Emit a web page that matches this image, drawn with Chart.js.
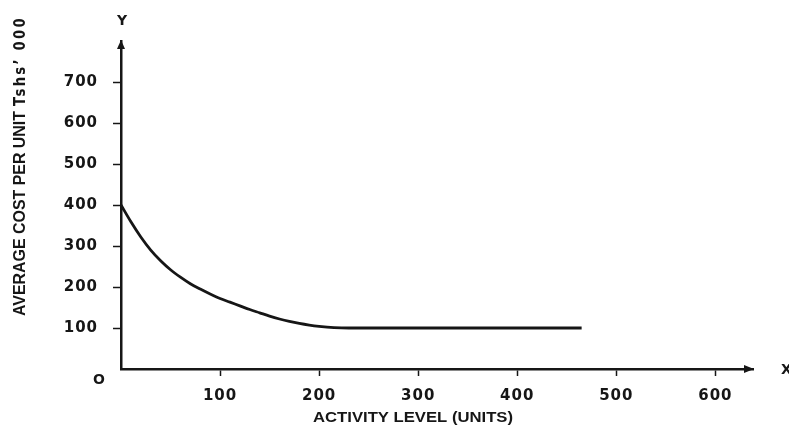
<!DOCTYPE html>
<html>
<head>
<meta charset="utf-8">
<script src="https://cdn.jsdelivr.net/npm/chart.js@4.4.1/dist/chart.umd.min.js"></script>
<style>
  html, body { margin: 0; padding: 0; background: #ffffff; }
  #wrap { width: 789px; height: 431px; }
</style>
</head>
<body>
<div id="wrap"><canvas id="c" width="789" height="431"></canvas></div>
<script>
// Average cost per unit against activity level
const activity = [0, 10, 20, 30, 40, 50, 60, 70, 80, 90, 100, 110, 120, 130, 140, 150, 160, 170, 180, 190, 200, 215, 230, 250, 300, 350, 400, 465];
const avgCost  = [400, 359, 322, 290, 264, 242, 224, 208, 195, 183, 172, 163, 154, 145, 137, 129, 122, 116, 111, 107, 104, 101, 100, 100, 100, 100, 100, 100];

const xTicks = [100, 200, 300, 400, 500, 600];
const yTicks = [100, 200, 300, 400, 500, 600, 700];

const xTitle = 'ACTIVITY LEVEL (UNITS)';
const yTitleMain = 'AVERAGE COST PER UNIT';
const yTitleUnit = 'Tshs’ 000';
const originLabel = 'O';
const xAxisName = 'X';
const yAxisName = 'Y';

const INK = '#161616';
const TICK_FONT = { family: "'DejaVu Sans', sans-serif", size: 15, weight: 'bold' };
const NARROW = "'Liberation Sans Narrow', 'Liberation Sans', Arial, sans-serif";

// text squeezed/stretched horizontally to a given length
function fitText(ctx, text, x, y, width) {
  const w = ctx.measureText(text).width;
  ctx.save();
  ctx.translate(x, y);
  ctx.scale(width / w, 1);
  ctx.fillText(text, 0, 0);
  ctx.restore();
}

const axisDecor = {
  id: 'axisDecor',
  beforeDraw(chart) {
    chart.ctx.letterSpacing = '1px';
  },
  afterDraw(chart) {
    const { ctx, chartArea: { left, right, top, bottom } } = chart;
    ctx.save();
    ctx.letterSpacing = '0px';
    ctx.fillStyle = INK;

    // arrow heads
    ctx.beginPath();
    ctx.moveTo(left, top - 1);
    ctx.lineTo(left - 4, top + 8);
    ctx.lineTo(left + 4, top + 8);
    ctx.closePath();
    ctx.fill();
    ctx.beginPath();
    ctx.moveTo(right + 1, bottom);
    ctx.lineTo(right - 9, bottom - 4);
    ctx.lineTo(right - 9, bottom + 4);
    ctx.closePath();
    ctx.fill();

    // axis names and origin
    ctx.font = "bold 14px 'DejaVu Sans', sans-serif";
    ctx.textBaseline = 'middle';
    ctx.textAlign = 'center';
    ctx.fillText(yAxisName, left + 1, 21);
    ctx.textAlign = 'left';
    ctx.fillText(xAxisName, 781, bottom + 1);
    ctx.textAlign = 'center';
    ctx.fillText(originLabel, 99, 380);

    // x axis title
    ctx.font = 'bold 15px ' + NARROW;
    ctx.textAlign = 'left';
    fitText(ctx, xTitle, 313, 418, 200);

    // y axis title (rotated)
    ctx.save();
    ctx.translate(21, 316);
    ctx.rotate(-Math.PI / 2);
    ctx.textAlign = 'left';
    ctx.textBaseline = 'middle';
    ctx.font = 'bold 16px ' + NARROW;
    fitText(ctx, yTitleMain, 0, 0, 205);
    ctx.font = "bold 15px 'DejaVu Sans', sans-serif";
    ctx.letterSpacing = '2.5px';
    fitText(ctx, yTitleUnit, 210, 0, 90);
    ctx.restore();

    ctx.restore();
  }
};

new Chart(document.getElementById('c'), {
  type: 'line',
  data: {
    datasets: [{
      data: activity.map((x, i) => ({ x: x, y: avgCost[i] })),
      borderColor: INK,
      borderWidth: 2.8,
      pointRadius: 0,
      fill: false,
      cubicInterpolationMode: 'monotone'
    }]
  },
  options: {
    responsive: false,
    animation: false,
    events: [],
    layout: { padding: { top: 41, right: 36, left: 0, bottom: 0 } },
    plugins: { legend: { display: false }, tooltip: { enabled: false } },
    scales: {
      x: {
        type: 'linear',
        min: 0,
        max: 638,
        afterBuildTicks(scale) { scale.ticks = xTicks.map(v => ({ value: v })); },
        afterFit(scale) { scale.height = 62; },
        grid: { drawOnChartArea: false, drawTicks: true, tickLength: 7, tickColor: INK, tickWidth: 1.5 },
        border: { display: true, color: INK, width: 2.5 },
        ticks: { color: INK, font: TICK_FONT, padding: 11, maxRotation: 0, autoSkip: false }
      },
      y: {
        type: 'linear',
        min: 0,
        max: 800,
        afterBuildTicks(scale) { scale.ticks = yTicks.map(v => ({ value: v })); },
        afterFit(scale) { scale.width = 121; },
        grid: { drawOnChartArea: false, drawTicks: true, tickLength: 8, tickColor: INK, tickWidth: 1.5 },
        border: { display: true, color: INK, width: 2.5 },
        ticks: { color: INK, font: TICK_FONT, padding: 15, autoSkip: false }
      }
    }
  },
  plugins: [axisDecor]
});
</script>
</body>
</html>
